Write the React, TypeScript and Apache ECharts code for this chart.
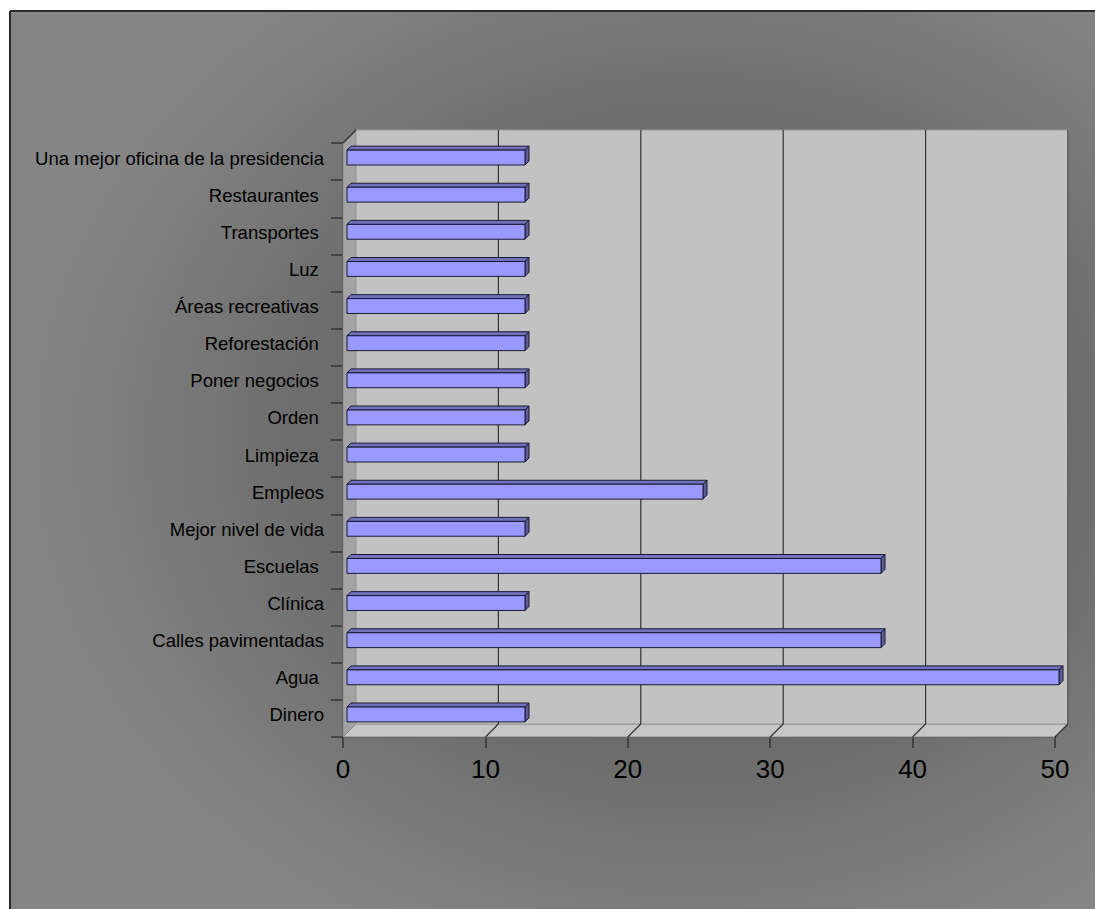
import React, { useEffect, useRef } from "react";
import * as echarts from "echarts";

const categories = [
  "Dinero",
  "Agua ",
  "Calles pavimentadas",
  "Clínica",
  "Escuelas ",
  "Mejor nivel de vida",
  "Empleos",
  "Limpieza ",
  "Orden ",
  "Poner negocios ",
  "Reforestación ",
  "Áreas recreativas ",
  "Luz ",
  "Transportes ",
  "Restaurantes ",
  "Una mejor oficina de la presidencia",
];
const values = [12.5, 50, 37.5, 12.5, 37.5, 12.5, 25, 12.5, 12.5, 12.5, 12.5, 12.5, 12.5, 12.5, 12.5, 12.5];
const xMin = 0;
const xMax = 50;
const xInterval = 10;
const gridValues = [10, 20, 30, 40, 50];

const FONT = 'Arial, "Liberation Sans", sans-serif';
const WALL_DEPTH = 13;
const BAR_OFFSET = 4;
const BAR_DEPTH = 4;

export default function App() {
  const ref = useRef<HTMLDivElement>(null);
  useEffect(() => {
    if (!ref.current) return;
    const chart = echarts.init(ref.current, null, { renderer: "svg" });
    const option: any = {
      animation: false,
      backgroundColor: "#ffffff",
      graphic: [
        {
          type: "rect",
          z: -20,
          shape: { x: 10, y: 11, width: 1085, height: 898 },
          style: {
            fill: {
              type: "radial",
              x: 0.63,
              y: 0.48,
              r: 0.62,
              colorStops: [
                { offset: 0, color: "#5e5e5e" },
                { offset: 0.6, color: "#6e6e6e" },
                { offset: 0.8, color: "#7a7a7a" },
                { offset: 1, color: "#858585" },
              ],
            },
          },
        },
        {
          type: "line",
          z: -19,
          shape: { x1: 10, y1: 11, x2: 1095, y2: 11 },
          style: { stroke: "#2a2a2a", lineWidth: 2 },
        },
        {
          type: "line",
          z: -19,
          shape: { x1: 10, y1: 11, x2: 10, y2: 909 },
          style: { stroke: "#2a2a2a", lineWidth: 2 },
        },
      ],
      grid: { left: 343, top: 143, right: 40, bottom: 172, containLabel: false },
      xAxis: {
        type: "value",
        min: xMin,
        max: xMax,
        interval: xInterval,
        axisLine: { show: true, lineStyle: { color: "#333333", width: 1.5 } },
        axisTick: { show: true, length: 11, lineStyle: { color: "#333333", width: 1.5 } },
        axisLabel: { fontSize: 26, color: "#000000", fontFamily: FONT, margin: 19 },
        splitLine: { show: false },
      },
      yAxis: {
        type: "category",
        data: categories,
        axisLine: { show: true, lineStyle: { color: "#333333", width: 1.5 } },
        axisTick: { show: true, length: 12, lineStyle: { color: "#333333", width: 1.5 } },
        axisLabel: {
          fontSize: 18.5,
          color: "#000000",
          fontFamily: FONT,
          margin: 19,
          verticalAlign: "bottom",
          lineHeight: 7,
        },
        splitLine: { show: false },
      },
      series: [
        {
          type: "custom",
          z: 1,
          silent: true,
          data: [[0, 0]],
          renderItem: (params: any, api: any) => {
            const cs = params.coordSys;
            const x0 = cs.x;
            const y0 = cs.y;
            const x1 = cs.x + cs.width;
            const y1 = cs.y + cs.height;
            const D = WALL_DEPTH;
            const children: any[] = [
              {
                type: "polygon",
                shape: { points: [[x0, y0], [x0 + D, y0 - D], [x0 + D, y1 - D], [x0, y1]] },
                style: { fill: "#a3a3a3", stroke: "#8a8a8a", lineWidth: 1 },
              },
              {
                type: "polygon",
                shape: { points: [[x0, y1], [x0 + D, y1 - D], [x1 + D, y1 - D], [x1, y1]] },
                style: { fill: "#c6c6c6", stroke: "#8a8a8a", lineWidth: 1 },
              },
              {
                type: "rect",
                shape: { x: x0 + D, y: y0 - D, width: x1 - x0, height: y1 - y0 },
                style: { fill: "#c2c2c2", stroke: "#9a9a9a", lineWidth: 1 },
              },
              {
                type: "line",
                shape: { x1: x1 + D, y1: y0 - D, x2: x1 + D, y2: y1 - D },
                style: { stroke: "#666666", lineWidth: 2 },
              },
              {
                type: "line",
                shape: { x1: x0, y1: y0, x2: x0 + D, y2: y0 - D },
                style: { stroke: "#333333", lineWidth: 1.5 },
              },
            ];
            gridValues.forEach((t) => {
              const gx = api.coord([t, 0])[0];
              if (t < xMax) {
                children.push({
                  type: "line",
                  shape: { x1: gx + D, y1: y0 - D, x2: gx + D, y2: y1 - D },
                  style: { stroke: "#333333", lineWidth: 1.2 },
                });
              }
              children.push({
                type: "line",
                shape: { x1: gx, y1: y1, x2: gx + D, y2: y1 - D },
                style: { stroke: "#333333", lineWidth: 1.2 },
              });
            });
            return { type: "group", children };
          },
        },
        {
          type: "custom",
          z: 3,
          data: values.map((v, i) => [v, i]),
          encode: { x: 0, y: 1 },
          renderItem: (params: any, api: any) => {
            const v = api.value(0);
            const c = api.value(1);
            const p0 = api.coord([0, c]);
            const p1 = api.coord([v, c]);
            const bh = api.size([0, 1])[1] * 0.4;
            const d = BAR_DEPTH;
            const xl = p0[0] + BAR_OFFSET;
            const xr = p1[0] + BAR_OFFSET;
            const yt = p0[1] - BAR_OFFSET - bh / 2;
            const yb = yt + bh;
            const edge = { stroke: "#1a1a33", lineWidth: 1 };
            return {
              type: "group",
              children: [
                {
                  type: "polygon",
                  shape: { points: [[xl, yt], [xl + d, yt - d], [xr + d, yt - d], [xr, yt]] },
                  style: { fill: "#7070bb", ...edge },
                },
                {
                  type: "polygon",
                  shape: { points: [[xr, yt], [xr + d, yt - d], [xr + d, yb - d], [xr, yb]] },
                  style: { fill: "#5c5c99", ...edge },
                },
                {
                  type: "rect",
                  shape: { x: xl, y: yt, width: xr - xl, height: bh },
                  style: { fill: "#9999ff", ...edge },
                },
              ],
            };
          },
        },
      ],
    };
    chart.setOption(option);
    return () => chart.dispose();
  }, []);
  return (
    <div
      ref={ref}
      style={{ position: "fixed", left: 0, top: 0, width: 1095, height: 909 }}
    />
  );
}
